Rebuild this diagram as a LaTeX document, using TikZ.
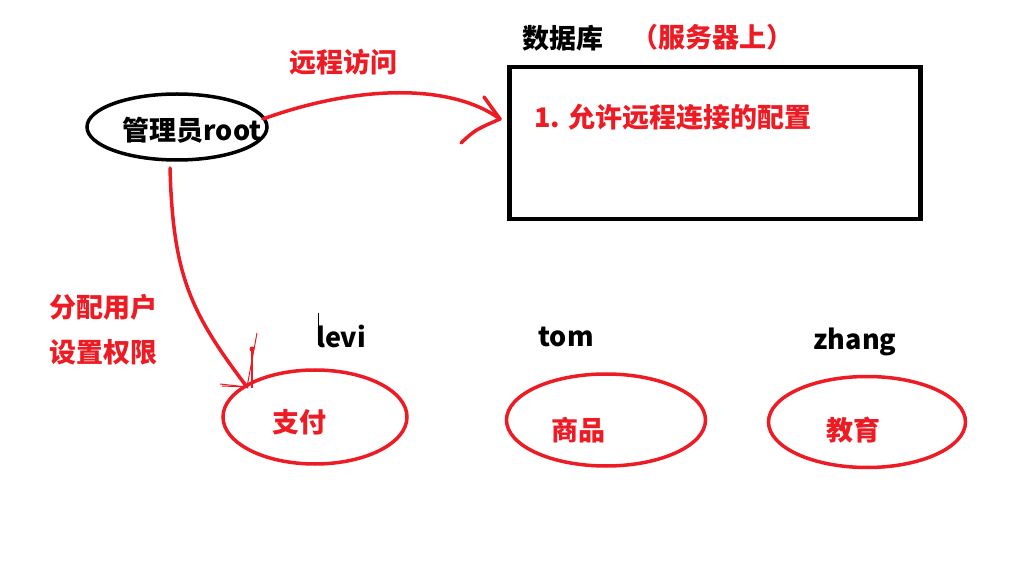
\documentclass[tikz,border=0pt]{standalone}
\usepackage{fontspec}
\setmainfont{Noto Sans CJK SC}
\usetikzlibrary{shapes.geometric}
\definecolor{pred}{RGB}{237,28,36}
\tikzset{
  txt/.style={inner sep=0pt, font=\fontsize{27}{30}\selectfont\bfseries},
  rtxt/.style={txt, text=pred},
  btxt/.style={txt, text=black},
  oval/.style={draw, ellipse, line width=3.5pt, inner sep=0pt},
  redline/.style={draw=pred, line width=3.5pt, line cap=round},
  thinred/.style={draw=pred, line width=1pt},
}
\begin{document}
\begin{tikzpicture}[x=1pt,y=-1pt]
\useasboundingbox (0,0) rectangle (1018,577);
% root
\node[oval, draw=black, minimum width=180pt, minimum height=66pt] (root) at (177,127) {};
\node[btxt] (roottxt) at (192,130) {管理员root};
% database
\node[draw=black, line width=4.5pt, minimum width=411pt, minimum height=152pt, inner sep=0pt] (db) at (715,143) {};
\node[btxt] (dbtitle) at (563,38) {数据库};
\node[rtxt] (server) at (712,37) {（服务器上）};
\node[rtxt] (cfg) at (673,117) {1. 允许远程连接的配置};
\node[rtxt] (remote) at (343,62) {远程访问};
% top arrow
\coordinate (a1) at (263,119);
\coordinate (a2) at (500,119);
\coordinate (h1) at (484,97);
\coordinate (h2) at (461,143);
\draw[redline] (a1) .. controls (360,84) and (452,84) .. (a2);
\draw[redline] (h1) -- (a2);
\draw[redline] (h2) .. controls (475,130) .. (a2);
% left labels
\node[rtxt] (assign) at (103,307) {分配用户};
\node[rtxt] (perm) at (103,352) {设置权限};
% down arrow
\coordinate (d1) at (170,168);
\coordinate (d2) at (247,387);
\draw[redline] (d1) .. controls (173,275) and (190,312) .. (d2);
\draw[thinred] (220,384) -- (d2);
\draw[thinred] (222,386) -- (d2);
\draw[thinred] (257,333) -- (d2);
\draw[draw=pred, line width=2.5pt] (252,350) -- (252,388);
\fill[pred] (252,349) circle (2.5pt);
% users
\node[btxt] (levi) at (341,336) {levi};
\draw[black, line width=0.8pt] (318.5,313) -- (318.5,345);
\node[btxt] (tom) at (566,337) {tom};
\node[btxt, anchor=base] (zhang) at (855,350) {zhang};
% ovals
\node[oval, draw=pred, minimum width=184pt, minimum height=94pt] (pay) at (315,417) {};
\node[rtxt] (paytxt) at (299,422) {支付};
\node[oval, draw=pred, minimum width=199pt, minimum height=92pt] (goods) at (606,420) {};
\node[rtxt] (goodstxt) at (578,430) {商品};
\node[oval, draw=pred, minimum width=197pt, minimum height=91pt] (edu) at (867,422) {};
\node[rtxt] (edutxt) at (853,430) {教育};
\end{tikzpicture}
\end{document}
